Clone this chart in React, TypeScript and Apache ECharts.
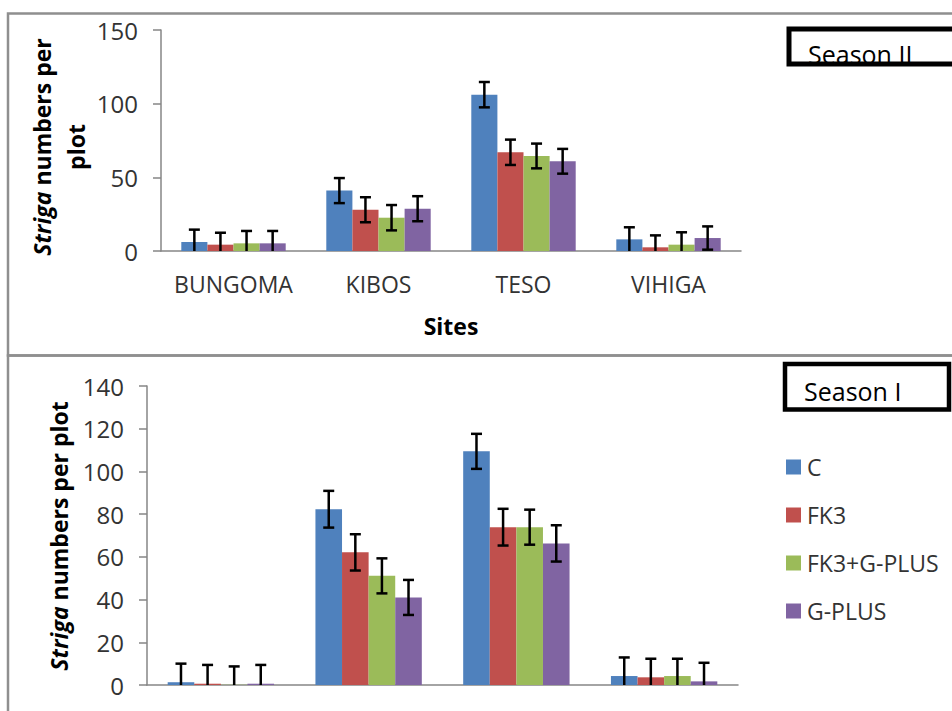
import React, { useEffect, useRef } from "react";
import * as echarts from "echarts";

const sites = ["BUNGOMA", "KIBOS", "TESO", "VIHIGA"];
const treatments = ["C", "FK3", "FK3+G-PLUS", "G-PLUS"];
const colors = ["#4F81BD", "#C0504D", "#9BBB59", "#8064A2"];

// Season II (top panel)
const s2C = [6.1, 41, 106.1, 7.9];
const s2FK3 = [4.3, 28, 67, 2.5];
const s2FK3G = [5.2, 22.6, 64.5, 4.3];
const s2G = [5.2, 28.7, 60.9, 8.8];
const s2ErrC = [8.4, 8.5, 8.6, 8.2];
const s2ErrFK3 = [8.1, 8.5, 8.6, 8.1];
const s2ErrFK3G = [8.4, 8.6, 8.4, 8.4];
const s2ErrG = [8.4, 8.5, 8.4, 7.9];

// Season I (bottom panel)
const s1C = [1.3, 82.3, 109.4, 4.2];
const s1FK3 = [0.6, 62.1, 73.9, 3.6];
const s1FK3G = [0.1, 51.1, 73.9, 4.2];
const s1G = [0.6, 41, 66.3, 1.7];
const s1ErrC = [8.7, 8.6, 8.2, 8.7];
const s1ErrFK3 = [8.8, 8.5, 8.6, 8.7];
const s1ErrFK3G = [8.6, 8.2, 8.2, 8.1];
const s1ErrG = [8.8, 8.2, 8.5, 8.7];

const topTicks = { min: 0, max: 150, interval: 50 };
const bottomTicks = { min: 0, max: 140, interval: 20 };

const FONT = "Open Sans";
const GAP = 0.28;

export default function App() {
  const ref = useRef<HTMLDivElement>(null);
  useEffect(() => {
    if (!ref.current) return;
    const chart = echarts.init(ref.current, null, { renderer: "svg" });

    const s2Vals = [s2C, s2FK3, s2FK3G, s2G];
    const s2Errs = [s2ErrC, s2ErrFK3, s2ErrFK3G, s2ErrG];
    const s1Vals = [s1C, s1FK3, s1FK3G, s1G];
    const s1Errs = [s1ErrC, s1ErrFK3, s1ErrFK3G, s1ErrG];

    const barSeries = (vals: number[][], idx: number) =>
      vals.map((v, i) => ({
        type: "bar",
        name: treatments[i],
        xAxisIndex: idx,
        yAxisIndex: idx,
        data: v,
        barGap: "0%",
        barCategoryGap: GAP * 100 + "%",
        itemStyle: { color: colors[i] },
      }));

    const errData = (vals: number[][], errs: number[][]) => {
      const out: number[][] = [];
      vals.forEach((v, s) =>
        v.forEach((val, c) => out.push([c, s, val, errs[s][c]]))
      );
      return out;
    };

    const renderErr = (params: any, api: any) => {
      const c = api.value(0);
      const s = api.value(1);
      const v = api.value(2);
      const e = api.value(3);
      const band = api.size([1, 0])[0];
      const bw = (band * (1 - GAP)) / 4;
      const base = api.coord([c, v]);
      const x = base[0] + (s - 1.5) * bw;
      const yTop = api.coord([c, v + e])[1];
      const lowV = Math.max(0, v - e);
      const yBot = api.coord([c, lowV])[1];
      const cap = 5.5;
      const st = { stroke: "#000", lineWidth: 2.5 };
      const children: any[] = [
        { type: "line", shape: { x1: x, y1: yTop, x2: x, y2: yBot }, style: st },
        { type: "line", shape: { x1: x - cap, y1: yTop, x2: x + cap, y2: yTop }, style: st },
      ];
      if (v - e > 0) {
        children.push({ type: "line", shape: { x1: x - cap, y1: yBot, x2: x + cap, y2: yBot }, style: st });
      }
      return { type: "group", children };
    };

    const errSeries = (vals: number[][], errs: number[][], idx: number) => ({
      type: "custom",
      name: "err" + idx,
      xAxisIndex: idx,
      yAxisIndex: idx,
      z: 10,
      data: errData(vals, errs),
      encode: { x: 0, y: 2 },
      renderItem: renderErr,
    });

    const axisLineStyle = { color: "#868686", width: 1.5 };

    const yAxisCommon = {
      type: "value",
      axisLine: { show: true, lineStyle: axisLineStyle },
      axisTick: { show: true, length: 8, lineStyle: axisLineStyle },
      splitLine: { show: false },
      axisLabel: { fontSize: 24, color: "#333", margin: 23, fontFamily: FONT },
    };

    const option: any = {
      animation: false,
      textStyle: { fontFamily: FONT },
      grid: [
        { left: 161, right: 211, top: 30, bottom: 460 },
        { left: 147, right: 214, top: 386, bottom: 26 },
      ],
      xAxis: [
        {
          gridIndex: 0,
          type: "category",
          data: sites,
          axisTick: { show: false },
          axisLine: { lineStyle: axisLineStyle },
          axisLabel: { fontSize: 23, color: "#333", margin: 21, fontFamily: FONT, interval: 0 },
          name: "Sites",
          nameLocation: "middle",
          nameGap: 63,
          nameTextStyle: { fontSize: 23, fontWeight: "bold", color: "#000", fontFamily: FONT },
        },
        {
          gridIndex: 1,
          type: "category",
          data: sites,
          axisTick: { show: false },
          axisLine: { lineStyle: axisLineStyle },
          axisLabel: { show: false },
        },
      ],
      yAxis: [
        { ...yAxisCommon, gridIndex: 0, ...topTicks },
        { ...yAxisCommon, gridIndex: 1, ...bottomTicks },
      ],
      legend: {
        data: treatments,
        orient: "vertical",
        left: 781,
        top: 450,
        itemWidth: 15,
        itemHeight: 15,
        itemGap: 24,
        icon: "rect",
        textStyle: { fontSize: 23, color: "#333", fontFamily: FONT, lineHeight: 24, padding: [0, 0, 0, 1] },
      },
      graphic: [
        { type: "rect", shape: { x: 8, y: 13.5, width: 1000, height: 342 }, style: { fill: "none", stroke: "#8f8f8f", lineWidth: 2.5 }, z: 0 },
        { type: "rect", shape: { x: 8, y: 355.5, width: 1000, height: 400 }, style: { fill: "none", stroke: "#8f8f8f", lineWidth: 2.5 }, z: 0 },
        {
          type: "text", x: 42, y: 147, rotation: Math.PI / 2,
          style: {
            text: "{i|Striga} numbers per", fontSize: 23, fontWeight: "bold", fontFamily: FONT, fill: "#000",
            align: "center", verticalAlign: "middle",
            rich: { i: { fontStyle: "italic", fontWeight: "bold", fontSize: 23, fontFamily: FONT, fill: "#000" } },
          },
        },
        {
          type: "text", x: 76, y: 147, rotation: Math.PI / 2,
          style: { text: "plot", fontSize: 23, fontWeight: "bold", fontFamily: FONT, fill: "#000", align: "center", verticalAlign: "middle" },
        },
        {
          type: "text", x: 59, y: 536, rotation: Math.PI / 2,
          style: {
            text: "{i|Striga} numbers per plot", fontSize: 23, fontWeight: "bold", fontFamily: FONT, fill: "#000",
            align: "center", verticalAlign: "middle",
            rich: { i: { fontStyle: "italic", fontWeight: "bold", fontSize: 23, fontFamily: FONT, fill: "#000" } },
          },
        },
        // Season II box (text cut by box)
        { type: "text", x: 808, y: 41, z: 20, style: { text: "Season II", fontSize: 25, fontFamily: FONT, fill: "#000", align: "left", verticalAlign: "top" } },
        { type: "rect", z: 21, shape: { x: 785, y: 66, width: 200, height: 14 }, style: { fill: "#fff" } },
        { type: "rect", z: 22, shape: { x: 789, y: 29, width: 200, height: 35 }, style: { fill: "none", stroke: "#000", lineWidth: 5 } },
        // Season I box
        { type: "rect", z: 22, shape: { x: 785, y: 364, width: 164, height: 45.5 }, style: { fill: "none", stroke: "#000", lineWidth: 4.5 } },
        { type: "text", x: 804, y: 391, z: 23, style: { text: "Season I", fontSize: 25, fontFamily: FONT, fill: "#000", align: "left", verticalAlign: "middle" } },
      ],
      series: [
        ...barSeries(s2Vals, 0),
        ...barSeries(s1Vals, 1),
        errSeries(s2Vals, s2Errs, 0),
        errSeries(s1Vals, s1Errs, 1),
      ],
    };

    chart.setOption(option);
    return () => chart.dispose();
  }, []);

  return (
    <div
      ref={ref}
      style={{ position: "absolute", left: 0, top: 0, width: 952, height: 711, background: "#fff" }}
    />
  );
}
